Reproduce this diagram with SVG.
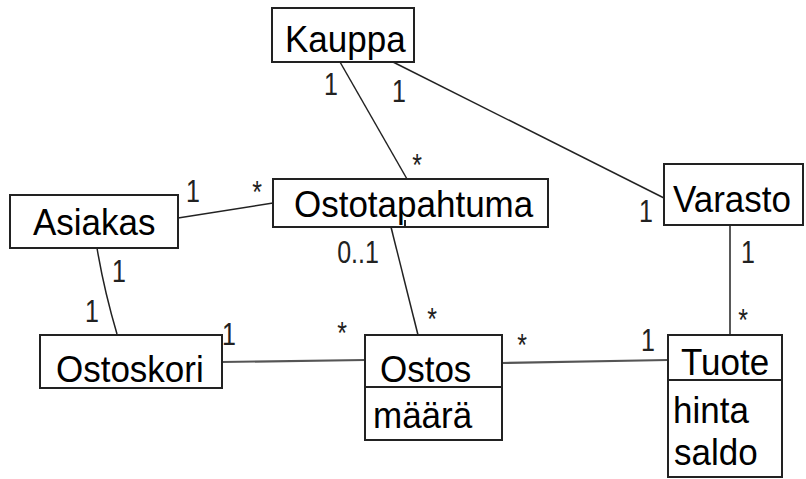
<svg xmlns="http://www.w3.org/2000/svg" width="806" height="479" viewBox="0 0 806 479">
  <style>
    .box { fill: #ffffff; stroke: #222222; stroke-width: 2; }
    .div { stroke: #222222; stroke-width: 2; }
    .name { font-family: "Liberation Sans", Arial, sans-serif; font-size: 35px; fill: #000000; }
    .mult { font-family: "Liberation Sans", Arial, sans-serif; font-size: 25px; fill: #222222; text-anchor: middle; }
    .assoc { fill: none; stroke: #222222; stroke-width: 1.5; }
    .assoc2 { fill: none; stroke: #555555; stroke-width: 2.2; }
  </style>
  <rect x="0" y="0" width="806" height="479" fill="#ffffff"/>

  <!-- associations -->
  <g id="connectors">
    <line class="assoc" x1="340" y1="62" x2="407" y2="179"/>
    <line class="assoc" x1="393" y1="62" x2="664" y2="198"/>
    <line class="assoc" x1="178" y1="218" x2="273" y2="203"/>
    <line class="assoc" x1="391" y1="227" x2="418" y2="335"/>
    <path class="assoc" d="M97,248 Q104,290 117,334"/>
    <line class="assoc2" x1="222" y1="362" x2="365" y2="360"/>
    <line class="assoc2" x1="502" y1="363" x2="668" y2="360"/>
    <line class="assoc" x1="730" y1="225" x2="730" y2="335"/>
  </g>

  <!-- classes -->
  <g id="kauppa">
    <rect class="box" x="272" y="8" width="142" height="54"/>
    <text class="name" transform="translate(285,52) scale(1,1.08)">Kauppa</text>
  </g>
  <g id="ostotapahtuma">
    <rect class="box" x="273" y="179" width="275" height="48"/>
    <line class="div" x1="405" y1="220" x2="405" y2="227"/>
    <text class="name" transform="translate(294,217) scale(1,1.08)">Ostotapahtuma</text>
  </g>
  <g id="asiakas">
    <rect class="box" x="10" y="195" width="168" height="53"/>
    <text class="name" transform="translate(33,235) scale(1,1.08)">Asiakas</text>
  </g>
  <g id="varasto">
    <rect class="box" x="664" y="164" width="139" height="61"/>
    <text class="name" transform="translate(673,212) scale(1,1.08)">Varasto</text>
  </g>
  <g id="ostoskori">
    <rect class="box" x="40" y="335" width="182" height="53"/>
    <text class="name" transform="translate(56,382) scale(1,1.08)">Ostoskori</text>
  </g>
  <g id="ostos">
    <rect class="box" x="365" y="335" width="137" height="105"/>
    <line class="div" x1="365" y1="387" x2="502" y2="387"/>
    <text class="name" transform="translate(380,382) scale(1,1.08)">Ostos</text>
    <text class="name" transform="translate(373,428) scale(1,1.08)">määrä</text>
  </g>
  <g id="tuote">
    <rect class="box" x="668" y="335" width="114" height="142"/>
    <line class="div" x1="668" y1="380" x2="782" y2="380"/>
    <text class="name" transform="translate(681,375) scale(1,1.08)">Tuote</text>
    <text class="name" transform="translate(673,423) scale(1,1.08)">hinta</text>
    <text class="name" transform="translate(674,465) scale(1,1.08)">saldo</text>
  </g>

  <!-- multiplicities -->
  <g id="multiplicities">
    <text class="mult" transform="translate(331,95) scale(1,1.28)">1</text>
    <text class="mult" transform="translate(399,102) scale(1,1.28)">1</text>
    <text class="mult" transform="translate(417,176) scale(1,1.28)">*</text>
    <text class="mult" transform="translate(193,202) scale(1,1.28)">1</text>
    <text class="mult" transform="translate(257,203) scale(1,1.28)">*</text>
    <text class="mult" transform="translate(119,282) scale(1,1.28)">1</text>
    <text class="mult" transform="translate(92,322) scale(1,1.28)">1</text>
    <text class="mult" transform="translate(358,263) scale(1,1.28)">0..1</text>
    <text class="mult" transform="translate(432,330) scale(1,1.28)">*</text>
    <text class="mult" transform="translate(342,344) scale(1,1.28)">*</text>
    <text class="mult" transform="translate(229,345) scale(1,1.28)">1</text>
    <text class="mult" transform="translate(522,356) scale(1,1.28)">*</text>
    <text class="mult" transform="translate(648,351) scale(1,1.28)">1</text>
    <text class="mult" transform="translate(646,222) scale(1,1.28)">1</text>
    <text class="mult" transform="translate(748,263) scale(1,1.28)">1</text>
    <text class="mult" transform="translate(743,331) scale(1,1.28)">*</text>
  </g>
</svg>
